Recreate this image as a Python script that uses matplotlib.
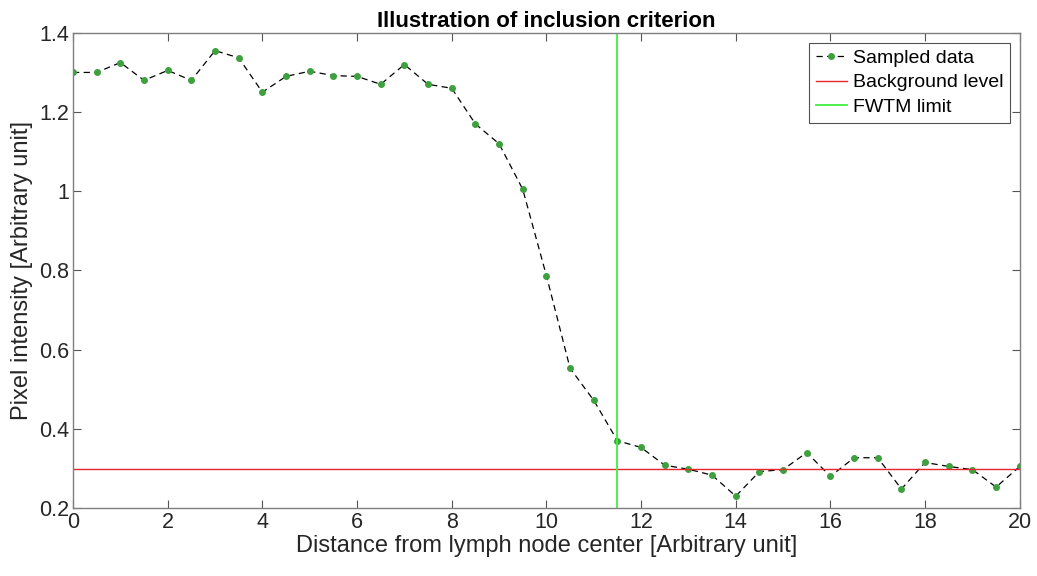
import numpy as np
import matplotlib.pyplot as plt
from matplotlib.ticker import FuncFormatter

plt.rcParams['font.family'] = ['Liberation Sans', 'DejaVu Sans']

# Sampled profile
distance = np.arange(0, 20.5, 0.5)
intensity = [1.300, 1.300, 1.325, 1.280, 1.305, 1.280, 1.355, 1.337, 1.250, 1.290,
             1.303, 1.292, 1.290, 1.270, 1.320, 1.270, 1.260, 1.170, 1.120, 1.005,
             0.787, 0.553, 0.472, 0.370, 0.353, 0.308, 0.298, 0.283, 0.230, 0.292,
             0.297, 0.340, 0.280, 0.327, 0.327, 0.248, 0.315, 0.305, 0.297, 0.253,
             0.305]
background = 0.298
fwtm = 11.5

fig = plt.figure(figsize=(10.37, 5.76), dpi=100)
ax = fig.add_axes([0.0704, 0.118, 0.913, 0.825])

ax.plot(distance, intensity, '--', color='black', lw=0.9, dashes=(5, 3.5),
        marker='o', ms=4, mfc='#3fa03f', mec='#3fa03f', label='Sampled data')
ax.axhline(background, color='#e8262b', lw=1, label='Background level')
ax.axvline(fwtm, color='#40f040', lw=1.3, label='FWTM limit')

ax.set_xlim(0, 20)
ax.set_ylim(0.2, 1.4)
ax.set_xticks(np.arange(0, 21, 2))
ax.set_yticks(np.arange(0.2, 1.41, 0.2))
ax.yaxis.set_major_formatter(FuncFormatter(lambda v, p: f'{v:g}'))

gray = '#262626'
for s in ax.spines.values():
    s.set_color('#7f7f7f')
    s.set_linewidth(1)
ax.tick_params(direction='in', top=True, right=True, length=6, color='#555555',
               labelsize=15.5, labelcolor=gray, pad=3)

ax.set_xlabel('Distance from lymph node center [Arbitrary unit]', fontsize=17, color=gray, labelpad=1)
ax.set_ylabel('Pixel intensity [Arbitrary unit]', fontsize=17, color=gray, labelpad=4)
ax.set_title('Illustration of inclusion criterion', fontsize=16, fontweight='bold', pad=4)

leg = ax.legend(loc='upper right', fontsize=14, frameon=True, fancybox=False,
                edgecolor='#262626', borderaxespad=0.5, handlelength=1.6,
                borderpad=0.35, labelspacing=0.35, handletextpad=0.3)
leg.get_frame().set_linewidth(0.8)

fig.savefig('out.png', dpi=100)
